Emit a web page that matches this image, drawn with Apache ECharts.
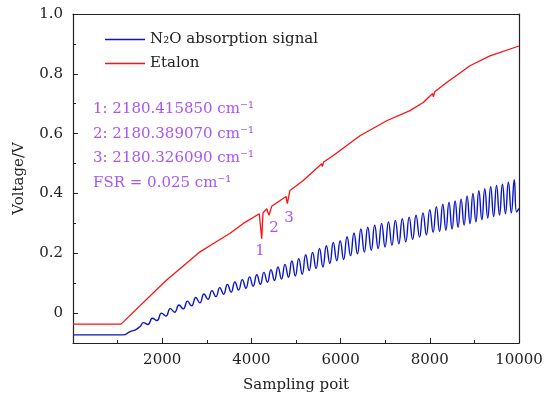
<!DOCTYPE html>
<html>
<head>
<meta charset="utf-8">
<script src="https://cdn.jsdelivr.net/npm/echarts@6/dist/echarts.min.js"></script>
<style>
html, body { margin: 0; padding: 0; background: #fff; }
#chart { width: 550px; height: 403px; }
</style>
</head>
<body>
<div id="chart"></div>
<script>
// 刻度
var yTicks = [0, 0.2, 0.4, 0.6, 0.8, 1.0];
var yMinorTicks = [0.1, 0.3, 0.5, 0.7, 0.9];

// Etalon 曲线
var etalonX = [0, 1076, 2092, 2466, 2840, 3139, 3513, 3811, 4177, 4231, 4260, 4343, 4395, 4455, 4776, 4805, 4865,
    5163, 5575, 5590, 5620, 5836, 6434, 7033, 7555, 7853, 8063, 8080, 8110, 8378, 8900, 9349, 10000];
var etalonY = [-0.037, -0.037, 0.11, 0.157, 0.204, 0.232, 0.266, 0.299, 0.332, 0.249, 0.335, 0.349, 0.327, 0.357, 0.39, 0.366, 0.41,
    0.443, 0.499, 0.49, 0.505, 0.527, 0.593, 0.643, 0.677, 0.704, 0.734, 0.723, 0.74, 0.771, 0.827, 0.86, 0.893];

// N2O 吸收信号：起始段、峰、谷、结尾
var leadX = [0, 1121, 1280, 1400, 1500];
var leadY = [-0.073, -0.073, -0.062, -0.056, -0.046];
var peakX = [1581, 1782, 1984, 2181, 2377, 2567, 2753, 2937, 3116, 3291,
    3462, 3630, 3796, 3959, 4121, 4280, 4439, 4596, 4753, 4908,
    5062, 5217, 5372, 5527, 5681, 5836, 5991, 6145, 6300, 6455,
    6609, 6764, 6919, 7074, 7228, 7383, 7538, 7692, 7847, 8000,
    8147, 8291, 8430, 8567, 8701, 8836, 8968, 9100, 9233, 9365,
    9497, 9629, 9762, 9894];
var peakY = [-0.032, -0.017, 0.0, 0.015, 0.027, 0.040, 0.052, 0.064, 0.075, 0.085,
    0.096, 0.104, 0.112, 0.121, 0.128, 0.136, 0.145, 0.154, 0.163, 0.174,
    0.182, 0.195, 0.203, 0.216, 0.225, 0.236, 0.242, 0.255, 0.268, 0.281,
    0.287, 0.294, 0.300, 0.305, 0.310, 0.316, 0.321, 0.327, 0.335, 0.346,
    0.356, 0.364, 0.371, 0.375, 0.381, 0.392, 0.400, 0.409, 0.416, 0.423,
    0.427, 0.431, 0.438, 0.446];
var troughX = [1681, 1883, 2083, 2279, 2472, 2660, 2845, 3027, 3204, 3377,
    3546, 3713, 3878, 4040, 4201, 4360, 4518, 4675, 4831, 4985,
    5140, 5295, 5450, 5604, 5759, 5914, 6068, 6223, 6378, 6532,
    6687, 6842, 6997, 7151, 7306, 7461, 7615, 7770, 7924, 8074,
    8219, 8361, 8499, 8634, 8769, 8902, 9034, 9167, 9299, 9431,
    9563, 9696, 9828, 9947];
var troughY = [-0.038, -0.025, -0.010, 0.003, 0.014, 0.024, 0.034, 0.046, 0.055, 0.063,
    0.070, 0.077, 0.083, 0.090, 0.096, 0.103, 0.109, 0.114, 0.120, 0.124,
    0.130, 0.142, 0.149, 0.154, 0.166, 0.175, 0.179, 0.192, 0.198, 0.204,
    0.210, 0.216, 0.221, 0.227, 0.232, 0.238, 0.246, 0.254, 0.262, 0.270,
    0.273, 0.277, 0.281, 0.287, 0.294, 0.299, 0.305, 0.312, 0.318, 0.323,
    0.328, 0.332, 0.335, 0.338];
var tailX = [10000];
var tailY = [0.35];

// 吸收峰编号
var dipNames = ['1', '2', '3'];
var dipX = [4193, 4506, 4843];
var dipY = [0.207, 0.283, 0.318];

var notes = ['1: 2180.415850 cm⁻¹', '2: 2180.389070 cm⁻¹', '3: 2180.326090 cm⁻¹', 'FSR = 0.025 cm⁻¹'];

var FONT = 'DejaVu Serif';
var PURPLE = '#a855f3';
var BLUE = '#0a16c4';
var RED = '#ff1010';

var etalonData = etalonX.map(function (x, i) { return [x, etalonY[i]]; });
var signalData = leadX.map(function (x, i) { return [x, leadY[i]]; });
for (var i = 0; i < peakX.length; i++) {
    signalData.push([peakX[i], peakY[i]]);
    signalData.push([troughX[i], troughY[i]]);
}
tailX.forEach(function (x, i) { signalData.push([x, tailY[i]]); });

var chart = echarts.init(document.getElementById('chart'));

var option = {
    animation: false,
    backgroundColor: '#fff',
    textStyle: { fontFamily: FONT },
    grid: { left: 73, right: 31, top: 14, bottom: 60, containLabel: false, outerBoundsMode: 'none' },
    legend: {
        orient: 'vertical',
        left: 100,
        top: 27,
        icon: 'rect',
        itemWidth: 40,
        itemHeight: 1.4,
        itemGap: 9,
        textStyle: { fontFamily: FONT, fontSize: 15, color: '#222' },
        data: ['N₂O absorption signal', 'Etalon']
    },
    xAxis: [{
        type: 'value',
        min: 0, max: 10000, interval: 2000,
        name: 'Sampling poit',
        nameLocation: 'middle',
        nameGap: 35,
        nameTextStyle: { fontFamily: FONT, fontSize: 15, color: '#222' },
        axisLine: { onZero: false, lineStyle: { color: '#222', width: 1.2 } },
        axisTick: { inside: true, length: 5, lineStyle: { color: '#222' } },
        minorTick: { show: true, splitNumber: 2, length: 3, lineStyle: { color: '#222' } },
        axisLabel: {
            margin: 10, fontSize: 15, color: '#222', fontFamily: FONT,
            formatter: function (v) { return v === 0 ? '' : String(v); }
        },
        splitLine: { show: false }
    }, {
        type: 'value', position: 'top', min: 0, max: 10000,
        axisLine: { onZero: false, lineStyle: { color: '#222', width: 1.2 } },
        axisTick: { show: false }, axisLabel: { show: false }, splitLine: { show: false }
    }],
    yAxis: [{
        type: 'value',
        min: -0.1, max: 1.0,
        name: 'Voltage/V',
        nameLocation: 'middle',
        nameGap: 46,
        nameTextStyle: { fontFamily: FONT, fontSize: 15, color: '#222' },
        axisLine: { onZero: false, lineStyle: { color: '#222', width: 1.2 } },
        axisTick: { inside: true, length: 5, customValues: yTicks, lineStyle: { color: '#222' } },
        axisLabel: {
            margin: 10, fontSize: 15, color: '#222', fontFamily: FONT,
            customValues: yTicks,
            formatter: function (v) { return Math.abs(v) < 1e-9 ? '0' : v.toFixed(1); }
        },
        splitLine: { show: false }
    }, {
        type: 'value', position: 'left', min: -0.1, max: 1.0,
        axisLine: { show: false },
        axisTick: { inside: true, length: 3, customValues: yMinorTicks, lineStyle: { color: '#222' } },
        axisLabel: { show: false }, splitLine: { show: false }
    }, {
        type: 'value', position: 'right', min: -0.1, max: 1.0,
        axisLine: { onZero: false, lineStyle: { color: '#222', width: 1.2 } },
        axisTick: { show: false }, axisLabel: { show: false }, splitLine: { show: false }
    }],
    graphic: [{
        type: 'text',
        left: 93,
        top: 97,
        style: {
            text: notes.join('\n'),
            font: '15px "DejaVu Serif"',
            lineHeight: 24.5,
            fill: PURPLE
        }
    }],
    series: [{
        name: 'N₂O absorption signal',
        type: 'line',
        symbol: 'none',
        smooth: 0.5,
        color: BLUE,
        lineStyle: { width: 1.4, color: BLUE },
        data: signalData,
        z: 3
    }, {
        name: 'Etalon',
        type: 'line',
        symbol: 'none',
        color: RED,
        lineStyle: { width: 1.3, color: RED },
        data: etalonData,
        z: 2,
        markPoint: {
            symbol: 'circle',
            symbolSize: 0,
            label: { show: true, position: 'inside', color: PURPLE, fontSize: 15, fontFamily: FONT, formatter: '{b}' },
            data: dipNames.map(function (n, i) { return { name: n, coord: [dipX[i], dipY[i]] }; })
        }
    }]
};

chart.setOption(option);
</script>
</body>
</html>
